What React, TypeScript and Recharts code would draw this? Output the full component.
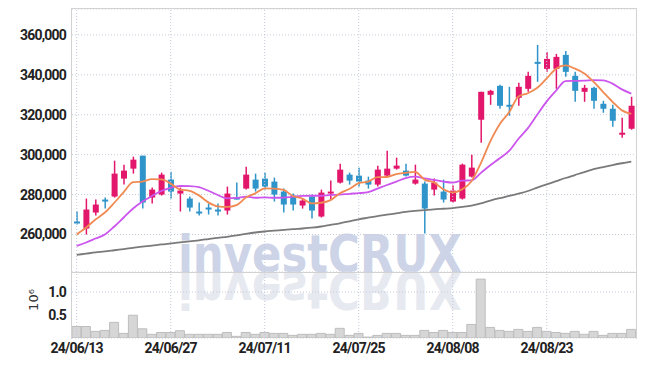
import React from 'react';
import {
  ComposedChart,
  BarChart,
  Bar,
  Line,
  XAxis,
  YAxis,
  CartesianGrid,
  ReferenceLine,
} from 'recharts';

const dates = [
  '24/06/13', '24/06/14', '24/06/17', '24/06/18', '24/06/19', '24/06/20', '24/06/21', '24/06/24', '24/06/25', '24/06/26',
  '24/06/27', '24/06/28', '24/07/01', '24/07/02', '24/07/03', '24/07/04', '24/07/05', '24/07/08', '24/07/09', '24/07/10',
  '24/07/11', '24/07/12', '24/07/15', '24/07/16', '24/07/17', '24/07/18', '24/07/19', '24/07/22', '24/07/23', '24/07/24',
  '24/07/25', '24/07/26', '24/07/29', '24/07/30', '24/07/31', '24/08/01', '24/08/02', '24/08/05', '24/08/06', '24/08/07',
  '24/08/08', '24/08/09', '24/08/12', '24/08/13', '24/08/14', '24/08/16', '24/08/19', '24/08/20', '24/08/21', '24/08/22',
  '24/08/23', '24/08/26', '24/08/27', '24/08/28', '24/08/29', '24/08/30', '24/09/02', '24/09/03', '24/09/04', '24/09/05',
];

const opens = [
  266500, 263000, 271000, 277500, 279000, 288000, 293000, 299500, 278500, 280000,
  287500, 280500, 278000, 271500, 273500, 272500, 272000, 278500, 283000, 287500,
  288000, 286500, 281500, 279500, 274500, 279000, 269000, 280500, 286000, 290000,
  289500, 287000, 285000, 289500, 293000, 292000, 285500, 285500, 282500, 281500,
  276500, 278000, 289000, 317500, 330000, 334500, 325000, 328500, 333000, 346500,
  343000, 343000, 350000, 339500, 331500, 333500, 325500, 323000, 310000, 313000,
];
const highs = [
  271500, 278000, 277500, 278500, 297000, 295000, 299000, 299500, 283500, 291000,
  291500, 283500, 279000, 276000, 275500, 275500, 284000, 286000, 294000, 290500,
  291000, 288500, 283000, 280500, 278000, 280000, 282500, 287000, 295500, 291000,
  293500, 289000, 294500, 302000, 298500, 295500, 295000, 286500, 288000, 287500,
  284500, 295500, 300000, 331500, 332500, 335000, 334000, 336000, 341500, 355000,
  351500, 350500, 352000, 341500, 335000, 334000, 327000, 325000, 318500, 329000,
];
const lows = [
  265000, 260000, 269500, 273000, 278500, 285000, 290500, 273000, 275500, 279500,
  278000, 271500, 271500, 269500, 270000, 269500, 270000, 277500, 282500, 281500,
  282500, 276500, 271000, 272000, 273000, 268000, 268500, 277500, 285500, 285000,
  284000, 283000, 284000, 289000, 292500, 289000, 285000, 260500, 279500, 276000,
  276000, 277500, 288500, 306000, 325000, 323000, 319500, 324500, 331500, 336500,
  341500, 333000, 339000, 326500, 326500, 323000, 321000, 314000, 308500, 312500,
];
const closes = [
  265500, 272500, 275000, 276500, 290500, 292000, 297500, 276000, 282500, 290000,
  281500, 282000, 273500, 271000, 272500, 272000, 280500, 278000, 290000, 283000,
  284000, 280000, 275000, 275000, 277000, 272000, 281000, 281500, 292500, 287000,
  286500, 285000, 292500, 293000, 294500, 289500, 287500, 273000, 286000, 277500,
  282000, 295000, 293500, 331500, 332000, 324500, 324500, 334000, 339500, 345500,
  348000, 349000, 341500, 332000, 333500, 327000, 323000, 317000, 311000, 324500,
];

const ma5 = [
  260000, 263500, 267500, 271000, 275900, 281200, 286200, 286500, 287700, 287600,
  285500, 282500, 281900, 279600, 276100, 274100, 273800, 274700, 278500, 280600,
  283100, 283000, 282300, 279300, 278000, 275600, 275900, 277200, 280700, 282800,
  285700, 286500, 288700, 288800, 290300, 290900, 291400, 287500, 286100, 282700,
  281100, 282600, 286700, 295800, 306700, 315300, 321200, 329200, 330800, 333500,
  338200, 343100, 344700, 343100, 340700, 336500, 331400, 326500, 322200, 320500,
];
const ma10 = [
  254300, 256000, 258000, 260000, 264000, 268500, 273000, 276500, 279300, 281800,
  283400, 284300, 284200, 283700, 281900, 279800, 278100, 278300, 279000, 278400,
  278600, 278400, 278500, 278900, 279300, 279400, 279400, 279800, 280000, 280400,
  280700, 281200, 283000, 284800, 286500, 288300, 289000, 288100, 287400, 286500,
  286000, 287000, 287100, 290900, 294700, 298200, 301900, 308000, 313300, 320100,
  326700, 332100, 336900, 337000, 337100, 337400, 337200, 335600, 332700, 330600,
];
const ma60 = [
  249800, 250400, 251000, 251500, 252100, 252700, 253300, 253900, 254400, 255000,
  255500, 256000, 256600, 257100, 257700, 258300, 258800, 259500, 260300, 261000,
  261500, 261900, 262300, 262700, 263000, 263400, 264000, 264800, 265600, 266600,
  267600, 268400, 269200, 269900, 270600, 271300, 271800, 272200, 272600, 272900,
  273200, 273800, 274500, 275600, 277000, 278200, 279300, 280500, 281800, 283500,
  285100, 286700, 288300, 289800, 291300, 292700, 293800, 294800, 295700, 296500,
];

const volumes = [
  250000, 250000, 144000, 165000, 340000, 100000, 495000, 200000, 80000, 120000,
  120000, 158000, 80000, 80000, 80000, 80000, 120000, 36000, 120000, 80000,
  120000, 100000, 100000, 57000, 80000, 80000, 100000, 80000, 210000, 57000,
  100000, 20000, 57000, 100000, 100000, 57000, 57000, 165000, 120000, 165000,
  120000, 120000, 295000, 1280000, 230000, 165000, 144000, 187000, 144000, 230000,
  144000, 120000, 100000, 144000, 80000, 144000, 57000, 100000, 100000, 187000,
];

const tickDates = ['24/06/13', '24/06/27', '24/07/11', '24/07/25', '24/08/08', '24/08/23'];
const priceTicks = [260000, 280000, 300000, 320000, 340000, 360000];
const volumeTicks = [500000, 1000000];

const UP = '#e2166b';
const DOWN = '#2f94c9';
const GRID = '#c6cbda';
const FONT = 'Roboto, "DejaVu Sans Condensed", sans-serif';

const rows = dates.map((d, i) => ({
  date: d,
  range: [lows[i], highs[i]],
  open: opens[i],
  high: highs[i],
  low: lows[i],
  close: closes[i],
  ma5: ma5[i],
  ma10: ma10[i],
  ma60: ma60[i],
  volume: volumes[i],
}));

const Candle = (props: any) => {
  const { x, y, width, height, payload } = props;
  const { open, close, high, low } = payload;
  const color = close >= open ? UP : DOWN;
  const span = high - low || 1;
  const yOf = (v: number) => y + ((high - v) / span) * height;
  const top = yOf(Math.max(open, close));
  const bot = yOf(Math.min(open, close));
  const cx = x + width / 2;
  return (
    <g>
      <line x1={cx} x2={cx} y1={y} y2={y + height} stroke={color} strokeWidth={1.5} />
      <rect x={x} y={top} width={width} height={Math.max(bot - top, 2)} fill={color} />
    </g>
  );
};

const tickStyle = { fontFamily: FONT, fontSize: 14, fill: '#222', fontWeight: 'bold' as const, letterSpacing: -0.8 };

export default function App() {
  return (
    <div style={{ position: 'absolute', left: 0, top: 0, width: 645, height: 366, background: '#fff' }}>
      <svg width={645} height={366} style={{ position: 'absolute', left: 0, top: 0 }}>
        <text
          x={178}
          y={272}
          fontFamily='"DejaVu Sans", sans-serif'
          fontWeight="bold"
          fontSize={52}
          fill="#cdd4e7"
          textLength={284}
          lengthAdjust="spacingAndGlyphs"
        >
          investCRUX
        </text>
        <g transform="translate(0,544) scale(1,-1)">
          <text
            x={178}
            y={272}
            fontFamily='"DejaVu Sans", sans-serif'
            fontWeight="bold"
            fontSize={52}
            fill="#e7e9f0"
            textLength={284}
            lengthAdjust="spacingAndGlyphs"
          >
            investCRUX
          </text>
        </g>
        <text
          transform="translate(33,300) rotate(-90)"
          textAnchor="middle"
          dominantBaseline="central"
          fontFamily='"DejaVu Sans", sans-serif'
          fontSize={13}
          fill="#333"
        >
          10⁶
        </text>
      </svg>

      <div style={{ position: 'absolute', left: 0, top: 0 }}>
        <ComposedChart width={645} height={272} data={rows} margin={{ top: 9, right: 9, bottom: 0, left: 8 }}>
          <CartesianGrid vertical={false} stroke={GRID} strokeDasharray="1 2" />
          <XAxis dataKey="date" hide />
          <YAxis
            width={64}
            domain={[241200, 373000]}
            ticks={priceTicks}
            allowDataOverflow
            axisLine={false}
            tickLine={false}
            tickSize={4}
            tick={tickStyle}
            tickFormatter={(v: number) => v.toLocaleString('en-US')}
          />
          {tickDates.map((d) => (
            <ReferenceLine key={d} x={d} stroke={GRID} strokeDasharray="1 2" />
          ))}
          <Bar dataKey="range" barSize={6} shape={Candle} isAnimationActive={false} />
          <Line type="monotone" dataKey="ma60" stroke="#7a7a7a" strokeWidth={1.8} dot={false} isAnimationActive={false} />
          <Line type="monotone" dataKey="ma10" stroke="#cc55ee" strokeWidth={1.8} dot={false} isAnimationActive={false} />
          <Line type="monotone" dataKey="ma5" stroke="#f08a52" strokeWidth={1.8} dot={false} isAnimationActive={false} />
        </ComposedChart>
      </div>

      <div style={{ position: 'absolute', left: 0, top: 272 }}>
        <BarChart width={645} height={94} data={rows} margin={{ top: 0, right: 9, bottom: 0, left: 8 }} barCategoryGap={0}>
          <CartesianGrid vertical={false} stroke={GRID} strokeDasharray="1 2" />
          <XAxis
            dataKey="date"
            ticks={tickDates}
            interval={0}
            axisLine={false}
            tickLine={false}
            tickSize={3}
            height={28}
            tick={tickStyle}
          />
          <YAxis
            width={64}
            domain={[0, 1435000]}
            ticks={volumeTicks}
            allowDataOverflow
            axisLine={false}
            tickLine={false}
            tickSize={4}
            tick={tickStyle}
            tickFormatter={(v: number) => (v / 1e6).toFixed(1)}
          />
          {tickDates.map((d) => (
            <ReferenceLine key={d} x={d} stroke={GRID} strokeDasharray="1 2" />
          ))}
          <Bar dataKey="volume" fill="#d6d6d6" stroke="#bdbdbd" strokeWidth={1} isAnimationActive={false} />
        </BarChart>
      </div>

      <div
        style={{
          position: 'absolute',
          left: 71,
          top: 8,
          width: 564,
          height: 330,
          borderTop: '1px solid #d2d2d2',
          borderLeft: '1px solid #d2d2d2',
          borderRight: '1px solid #d2d2d2',
          pointerEvents: 'none',
        }}
      />
      <div
        style={{
          position: 'absolute',
          left: 71,
          top: 272,
          width: 566,
          height: 0,
          borderTop: '1px solid #d2d2d2',
          pointerEvents: 'none',
        }}
      />
    </div>
  );
}
